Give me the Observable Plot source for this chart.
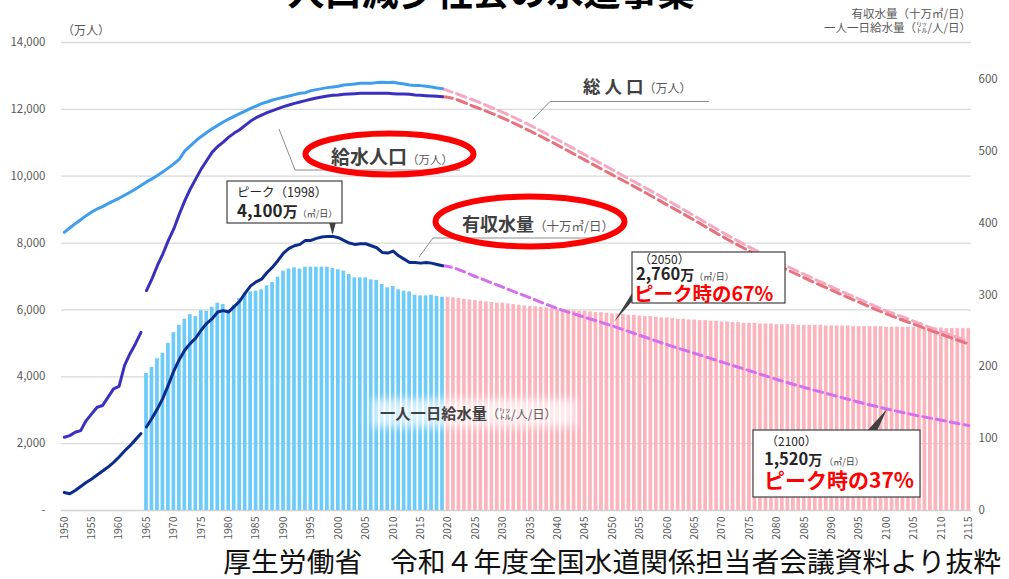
<!DOCTYPE html>
<html><head><meta charset="utf-8">
<script src="https://cdn.jsdelivr.net/npm/d3@7"></script>
<script src="https://cdn.jsdelivr.net/npm/@observablehq/plot@0.6"></script>
<style>
body{margin:0;background:#fff;}
#wrap{position:relative;width:1009px;height:579px;overflow:hidden;}
</style></head><body><div id="wrap"></div>
<script>
const FONT = '"Noto Sans CJK JP","Noto Sans",sans-serif';

// ---- categories / ticks ----
const obsYears = d3.range(1950, 2020);          // observed 1950–2019
const barObsYears = d3.range(1965, 2020);       // observed bars 1965–2019
const barProjYears = d3.range(2020, 2116);      // projected bars 2020–2115
const projYears = [2020,2025,2030,2035,2040,2045,2050,2055,2060,2065,2070,2075,2080,2085,2090,2095,2100,2105,2110,2115];
const xTicks = d3.range(1950, 2116, 5);
const leftTicks = [0,2000,4000,6000,8000,10000,12000,14000];
const rightTicks = [0,100,200,300,400,500,600];

// ---- series (総人口, 給水人口: 万人) ----
const totalPop = [8320,8450,8580,8700,8820,8930,9020,9090,9180,9260,
  9340,9430,9520,9620,9720,9830,9920,10020,10130,10250,
  10370,10510,10760,10910,11060,11190,11310,11420,11520,11620,
  11710,11790,11870,11950,12030,12100,12170,12220,12280,12320,
  12360,12400,12440,12480,12500,12560,12590,12620,12650,12670,
  12690,12730,12740,12760,12780,12780,12780,12800,12810,12800,
  12810,12780,12760,12730,12710,12710,12690,12670,12640,12620];
const supplyPop = [2190,2240,2340,2390,2690,2890,3090,3140,3390,3640,
  3710,4340,4690,4990,5330,6580,6930,7330,7680,8080,
  8430,8870,9270,9620,9920,10220,10470,10720,10890,11020,
  11170,11290,11390,11520,11650,11750,11830,11900,11960,12020,
  12080,12130,12180,12220,12260,12300,12340,12370,12400,12420,
  12430,12450,12460,12470,12480,12480,12480,12480,12480,12480,
  12470,12460,12460,12450,12430,12420,12410,12400,12390,12380];
// 有収水量 (十万㎥/日)
const waterVol = [27,25,30,36,42,47,53,59,65,72,
  80,89,97,106,115,125,138,152,168,188,
  209,226,240,250,258,270,280,287,297,299,
  297,305,313,325,336,342,346,356,364,374,
  385,392,396,398,404,404,407,409,410,410,
  408,404,400,398,399,399,396,393,386,385,
  388,381,376,371,371,370,371,370,368,366];
// 一人一日給水量 (㍑/人/日)
const perCapitaObs = [205,214,227,235,250,266,277,286,293,290,
  299,298,304,310,308,300,307,317,324,327,
  328,330,336,341,349,358,361,363,361,364,
  364,364,364,364,362,360,358,353,348,348,
  348,345,344,338,333,335,330,328,327,322,
  321,321,322,320,319];
const perCapitaProj = [319,318,317,316,315,314,313,312,311,310,
  310,309,308,307,306,305,305,304,303,302,
  301,301,300,299,298,298,297,296,296,295,
  294,294,293,292,292,291,290,290,289,288,
  288,287,286,286,285,285,284,284,283,283,
  282,282,281,281,280,280,280,279,279,279,
  278,278,278,278,277,277,277,277,277,276,
  276,276,276,276,275,275,275,275,275,275,
  274,274,274,274,274,274,273,273,273,273,
  273,272,272,272,272,272];
// projections (5-year)
const totalPopProj = [12560,12254,11913,11522,11092,10642,10192,9744,9284,8808,8328,7878,7458,7063,6688,6323,5972,5660,5350,5056];
const supplyPopProj = [12360,12070,11740,11350,10930,10480,10040,9600,9140,8680,8200,7760,7350,6960,6590,6230,5880,5570,5270,4980];
const waterVolProj = [365,350,334,318,302,289,276,262,248,235,222,209,196,184,173,162,152,143,135,127];

// secondary axis factor: 700 (right) ↔ 14,000 (left)
const RIGHT = 20;
const RIGHT_LABEL = 21.5;

const obs = obsYears.map((year,i)=>({year, total: totalPop[i], supply: supplyPop[i], water: waterVol[i], seg: year < 1965 ? "a" : "b"}));
const barsObs = barObsYears.map((year,i)=>({year, v: perCapitaObs[i]}));
const barsProj = barProjYears.map((year,i)=>({year, v: perCapitaProj[i]}));
const last = obs[obs.length-1];
const totalP = [{year:last.year, v:last.total}, ...projYears.map((year,i)=>({year, v: totalPopProj[i]}))];
const supplyP = [{year:last.year, v:last.supply}, ...projYears.map((year,i)=>({year, v: supplyPopProj[i]}))];
const waterP = [{year:last.year, v:last.water}, ...projYears.map((year,i)=>({year, v: waterVolProj[i]}))];

const plot = Plot.plot({
  width: 1009, height: 579,
  marginTop: 42, marginBottom: 69, marginLeft: 61, marginRight: 38,
  style: {fontFamily: FONT, fontSize: "11px", color: "#595959", background: "white", overflow: "visible"},
  x: {type: "linear", domain: [1949.5, 2115.5]},
  y: {domain: [0, 14000]},
  marks: [
    Plot.gridY(leftTicks.filter(d => d > 0), {stroke: "#d9d9d9", strokeOpacity: 1, strokeWidth: 1.3}),
    Plot.ruleY([0], {stroke: "#d0d0d0", strokeWidth: 1.3}),
    Plot.rect(barsObs, {x1: d => d.year - 0.5, x2: d => d.year + 0.5, y1: () => 0, y2: d => d.v * RIGHT, fill: "#6ccbf8", insetLeft: 0.9, insetRight: 0.9}),
    Plot.rect(barsProj, {x1: d => d.year - 0.5, x2: d => d.year + 0.5, y1: () => 0, y2: d => d.v * RIGHT, fill: "#fbb4bb", insetLeft: 0.9, insetRight: 0.9}),
    // dashed projections
    Plot.line(totalP, {x: "year", y: "v", stroke: "#f6a8c2", strokeWidth: 3, strokeDasharray: "10,5", curve: "monotone-x"}),
    Plot.line(supplyP, {x: "year", y: "v", stroke: "#e8727c", strokeWidth: 3, strokeDasharray: "10,5", curve: "monotone-x"}),
    Plot.line(waterP, {x: "year", y: d => d.v * RIGHT, stroke: "#d66ef0", strokeWidth: 3, strokeDasharray: "9,5", curve: "monotone-x"}),
    // observed lines
    Plot.line(obs, {x: "year", y: "total", stroke: "#3f9ded", strokeWidth: 3}),
    Plot.line(obs, {x: "year", y: "supply", z: "seg", stroke: "#3a30c0", strokeWidth: 3}),
    Plot.line(obs, {x: "year", y: d => d.water * RIGHT, z: "seg", stroke: "#0b2c8c", strokeWidth: 3}),
    // axes
    Plot.axisX(xTicks, {anchor: "bottom", tickRotate: -90, tickSize: 0, tickPadding: 6, tickFormat: d => String(d), fontSize: 10.5, fill: "#595959", label: null}),
    Plot.axisY(leftTicks, {anchor: "left", tickSize: 0, tickPadding: 16, tickFormat: d => d === 0 ? "-" : d3.format(",")(d), fontSize: 11.5, fill: "#595959", label: null}),
    Plot.axisY(rightTicks.map(v => v * RIGHT_LABEL), {anchor: "right", tickSize: 0, tickPadding: 7, textAnchor: "start", tickFormat: d => String(Math.round(d / RIGHT_LABEL)), fontSize: 11.5, fill: "#595959", label: null})
  ]
});

document.getElementById("wrap").appendChild(plot);

// ---- annotations ----
const svg = d3.select(plot);
const g = svg.append("g").attr("font-family", FONT);
function text(x, y, parts, anchor = "start") {
  const t = g.append("text").attr("x", x).attr("y", y).attr("text-anchor", anchor);
  for (const p of parts) {
    const s = t.append("tspan").text(p.t);
    s.attr("font-size", p.size || 12).attr("fill", p.fill || "#404040").attr("font-weight", p.bold ? 700 : 400);
    if (p.dx) s.attr("dx", p.dx);
    if (p.ls) s.attr("letter-spacing", p.ls);
  }
  return t;
}
// title (cut at top) and source caption
text(491, 6, [{t: "人口減少社会の水道事業", size: 37, bold: true, fill: "#000"}], "middle");
text(1001, 572, [{t: "厚生労働省　令和４年度全国水道関係担当者会議資料より抜粋", size: 27.8, fill: "#111"}], "end");
// axis unit labels
text(62, 35, [{t: "（万人）", size: 12, fill: "#595959"}]);
text(971, 18, [{t: "有収水量（十万㎥/日）", size: 11.5, fill: "#595959"}], "end");
text(971, 32, [{t: "一人一日給水量（㍑/人/日）", size: 11.5, fill: "#595959"}], "end");

// 総人口 label + leader
g.append("polyline").attr("points", "533,119 550,101.5 709,101.5").attr("fill", "none").attr("stroke", "#8c8c8c").attr("stroke-width", 1);
text(583, 93, [{t: "総 人 口", size: 17.5, bold: true, fill: "#404040"}, {t: "（万人）", size: 12, fill: "#595959"}]);

// 給水人口 label
g.append("ellipse").attr("cx", 389.5).attr("cy", 154).attr("rx", 84).attr("ry", 20.5).attr("fill", "white");
g.append("polyline").attr("points", "279,129 295,170 460,170").attr("fill", "none").attr("stroke", "#8c8c8c").attr("stroke-width", 1);
g.append("ellipse").attr("cx", 389.5).attr("cy", 154).attr("rx", 84).attr("ry", 20.5).attr("fill", "none").attr("stroke", "#ff0000").attr("stroke-width", 6);
text(331, 164, [{t: "給水人口", size: 19, bold: true, fill: "#404040"}, {t: "（万人）", size: 11.5, fill: "#595959"}]);

// 有収水量 label
g.append("ellipse").attr("cx", 530).attr("cy", 221.5).attr("rx", 94.5).attr("ry", 25).attr("fill", "white");
g.append("polyline").attr("points", "419,257 433,238 600,238").attr("fill", "none").attr("stroke", "#8c8c8c").attr("stroke-width", 1);
g.append("ellipse").attr("cx", 530).attr("cy", 221.5).attr("rx", 94.5).attr("ry", 25).attr("fill", "none").attr("stroke", "#ff0000").attr("stroke-width", 6);
text(462, 231, [{t: "有収水量", size: 18, bold: true, fill: "#404040"}, {t: "（十万㎥/日）", size: 12.5, fill: "#595959"}]);

// peak box
g.append("polygon").attr("points", "329,222 336,222 332.5,235").attr("fill", "#404040");
g.append("rect").attr("x", 227).attr("y", 181).attr("width", 115).attr("height", 42).attr("fill", "white").attr("stroke", "#404040").attr("stroke-width", 1.2);
text(237, 197, [{t: "ピーク（1998）", size: 12.5, fill: "#262626"}]);
text(237, 217, [{t: "4,100", size: 17, bold: true, fill: "#262626"}, {t: "万", size: 15, bold: true, fill: "#262626"}, {t: "（㎥/日）", size: 9, fill: "#404040"}]);

// 2050 box
g.append("polygon").attr("points", "634,290 634,299 614,322").attr("fill", "#404040");
g.append("rect").attr("x", 632).attr("y", 252).attr("width", 153).attr("height", 51).attr("fill", "white").attr("stroke", "#404040").attr("stroke-width", 1.2);
text(639, 264, [{t: "（2050）", size: 12, fill: "#262626"}]);
text(636, 280, [{t: "2,760", size: 16.5, bold: true, fill: "#262626"}, {t: "万", size: 14, bold: true, fill: "#262626"}, {t: "（㎥/日）", size: 9, fill: "#404040"}]);
text(634, 301, [{t: "ピーク時の67%", size: 19.5, bold: true, fill: "#ff0000"}]);

// 2100 box
g.append("polygon").attr("points", "867,431 877,431 887,409").attr("fill", "#404040");
g.append("rect").attr("x", 753).attr("y", 430).attr("width", 167).attr("height", 67).attr("fill", "white").attr("stroke", "#404040").attr("stroke-width", 1.2);
text(766, 446, [{t: "（2100）", size: 12, fill: "#262626"}]);
text(764, 465, [{t: "1,520", size: 16.5, bold: true, fill: "#262626"}, {t: "万", size: 14, bold: true, fill: "#262626"}, {t: "（㎥/日）", size: 9, fill: "#404040", dx: 2}]);
text(764, 488, [{t: "ピーク時の37%", size: 21, bold: true, fill: "#ff0000"}]);

// 一人一日給水量 label over bars
const defs = svg.append("defs");
defs.append("filter").attr("id", "soft").attr("x", "-20%").attr("y", "-50%").attr("width", "140%").attr("height", "200%")
  .append("feGaussianBlur").attr("stdDeviation", 4);
g.append("rect").attr("x", 372).attr("y", 399).attr("width", 204).attr("height", 28).attr("fill", "white").attr("fill-opacity", 0.7).attr("filter", "url(#soft)");
text(380, 419, [{t: "一人一日給水量", size: 15.3, bold: true, fill: "#404040"}, {t: "（㍑/人/日）", size: 12, fill: "#595959"}]);
</script>
</body></html>
